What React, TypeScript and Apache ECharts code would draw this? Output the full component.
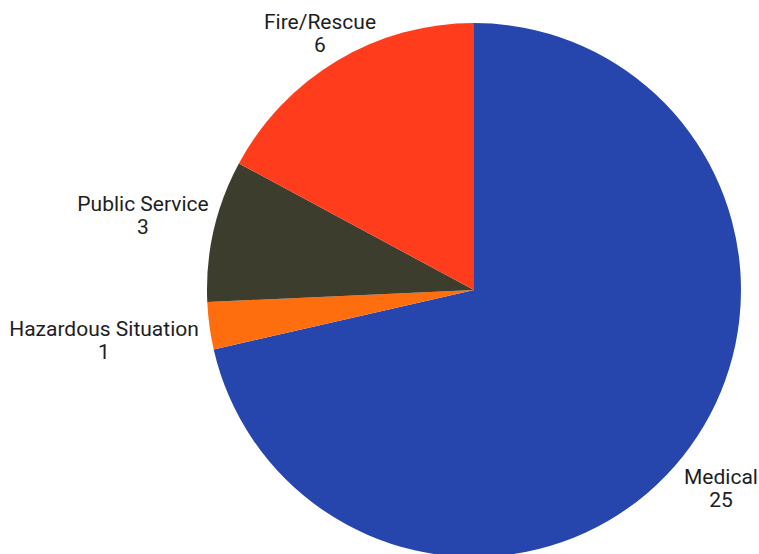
import React, { useEffect, useRef } from "react";
import * as echarts from "echarts";

const categories = ["Medical", "Hazardous Situation", "Public Service", "Fire/Rescue"];
const values = [25, 1, 3, 6];
const colors = ["#2646ad", "#ff6e0e", "#3d3d2e", "#ff3c1c"];
// label centres (layout only)
const labelCentres: [number, number][] = [
  [721, 488],
  [104, 340],
  [143, 215],
  [320, 33],
];

export default function App() {
  const ref = useRef<HTMLDivElement>(null);
  useEffect(() => {
    document.body.style.margin = "0";
    const chart = echarts.init(ref.current!, undefined, { renderer: "svg" });
    chart.setOption({
      animation: false,
      backgroundColor: "#ffffff",
      series: [
        {
          type: "pie",
          center: [474, 290],
          radius: 267,
          startAngle: 90,
          clockwise: true,
          avoidLabelOverlap: false,
          data: categories.map((name, i) => ({
            name,
            value: values[i],
            itemStyle: { color: colors[i] },
          })),
          label: {
            show: true,
            position: "outside",
            formatter: "{b}\n{c}",
            fontFamily: "Roboto",
            fontSize: 21,
            lineHeight: 23,
            color: "#1e1e1e",
            align: "center",
          },
          labelLine: { show: false },
          labelLayout: (p: any) => {
            const c = labelCentres[p.dataIndex];
            return { x: c[0], y: c[1], align: "center", verticalAlign: "middle" };
          },
        },
      ],
    });
    return () => chart.dispose();
  }, []);
  return (
    <div
      ref={ref}
      style={{ position: "fixed", left: 0, top: 0, width: 759, height: 554 }}
    />
  );
}
